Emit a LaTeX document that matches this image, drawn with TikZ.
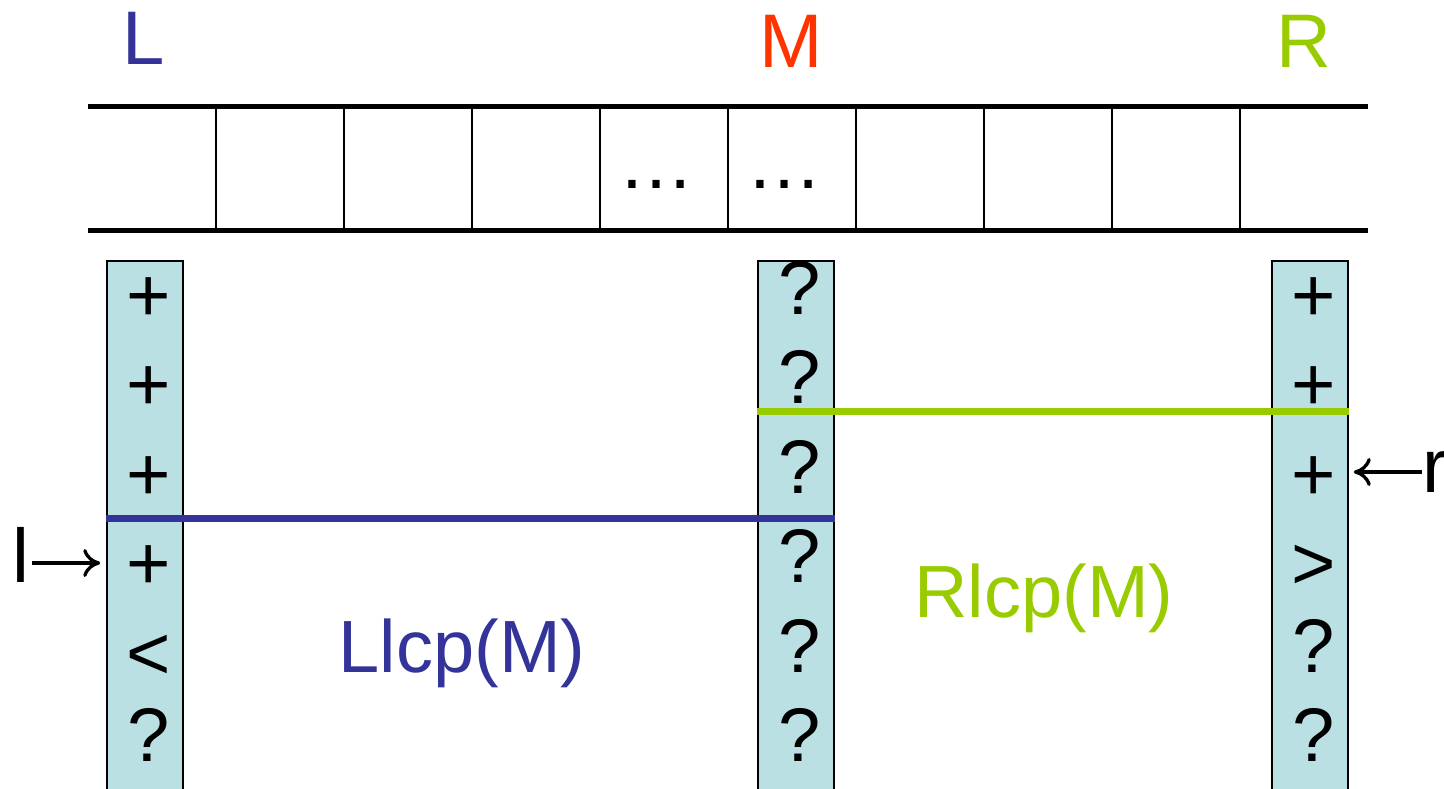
\documentclass[tikz,border=0pt]{standalone}
\usepackage{fontspec}
\setmainfont{Liberation Sans}
\usetikzlibrary{arrows.meta}
\definecolor{lblue}{HTML}{333399}
\definecolor{mred}{HTML}{FF3300}
\definecolor{rgreen}{HTML}{99CC00}
\definecolor{colfill}{HTML}{BBE0E3}
\begin{document}
\begin{tikzpicture}[x=1pt,y=-1pt,
  big/.style={font=\fontsize{76}{80}\selectfont, inner sep=0pt, anchor=base},
  region/.style={font=\fontsize{74}{78}\selectfont, inner sep=0pt, anchor=base},
  cell/.style={minimum width=128pt, minimum height=124pt, inner sep=0pt},
  stripe/.style={fill=colfill, draw=black, line width=1.5pt, minimum width=76pt,
                 minimum height=560pt, anchor=north, inner sep=0pt},
  arr/.style={line width=3.3pt, -{Computer Modern Rightarrow[length=17pt,width=28pt]}},
  thickrule/.style={line width=5pt},
  thinrule/.style={line width=2.5pt},
  cutline/.style={line width=7pt},
]
\useasboundingbox (0,0) rectangle (1444,789);
\clip (0,0) rectangle (1444,789);

% the array of cells
\foreach \i in {1,...,10}
  \node[cell] (c\i) at ({24+128*\i},168.5) {};
\draw[thickrule] (c1.north west) -- (c10.north east);
\draw[thickrule] (c1.south west) -- (c10.south east);
\foreach \i in {1,...,9}
  \draw[thinrule] (c\i.north east) -- (c\i.south east);
\node[big] (d1) at (656,189) {…};
\node[big] (d2) at (784,189) {…};

% pointer labels
\node[big, text=lblue] (L) at (144,65) {L};
\node[big, text=mred] (M) at (791,68) {M};
\node[big, text=rgreen] (R) at (1304,68) {R};

% suffix columns
\node[stripe] (lcol) at (145,260) {};
\node[stripe] (mcol) at (796,260) {};
\node[stripe] (rcol) at (1310,260) {};

% comparison marks (operators sit a little lower than the question marks)
\foreach \s/\d [count=\k] in {+/7,+/7,+/7,+/7,</7,?/0}
  \node[big] (l\k) at ({148.5},{314+\d+89.5*(\k-1)}) {\s};
\foreach \s/\d [count=\k] in {?/0,?/0,?/0,?/0,?/0,?/0}
  \node[big] (m\k) at ({799.5},{314+\d+89.5*(\k-1)}) {\s};
\foreach \s/\d [count=\k] in {+/7,+/7,+/7,>/7,?/0,?/0}
  \node[big] (r\k) at ({1313.5},{314+\d+89.5*(\k-1)}) {\s};

% lcp boundaries
\draw[cutline, lblue] ([yshift=-258pt]lcol.north west) -- ([yshift=-258pt]mcol.north east);
\draw[cutline, rgreen] ([yshift=-151.5pt]mcol.north west) -- ([yshift=-151.5pt]rcol.north east);

\node[region, text=lblue] (llcp) at (462,672) {Llcp(M)};
\node[region, text=rgreen] (rlcp) at (1044,617) {Rlcp(M)};

% l and r markers
\node[big] (l) at (20.5,582) {l};
\coordinate (la) at ([xshift=3pt,yshift=19pt]l.base east);
\draw[arr, shorten >=6pt] (la) -- (la -| lcol.west);

\node[big, anchor=base west] (r) at (1422,492) {r};
\coordinate (ra) at ([yshift=20pt]r.base west);
\draw[arr, shorten >=5pt] (ra) -- (ra -| rcol.east);
\end{tikzpicture}
\end{document}
